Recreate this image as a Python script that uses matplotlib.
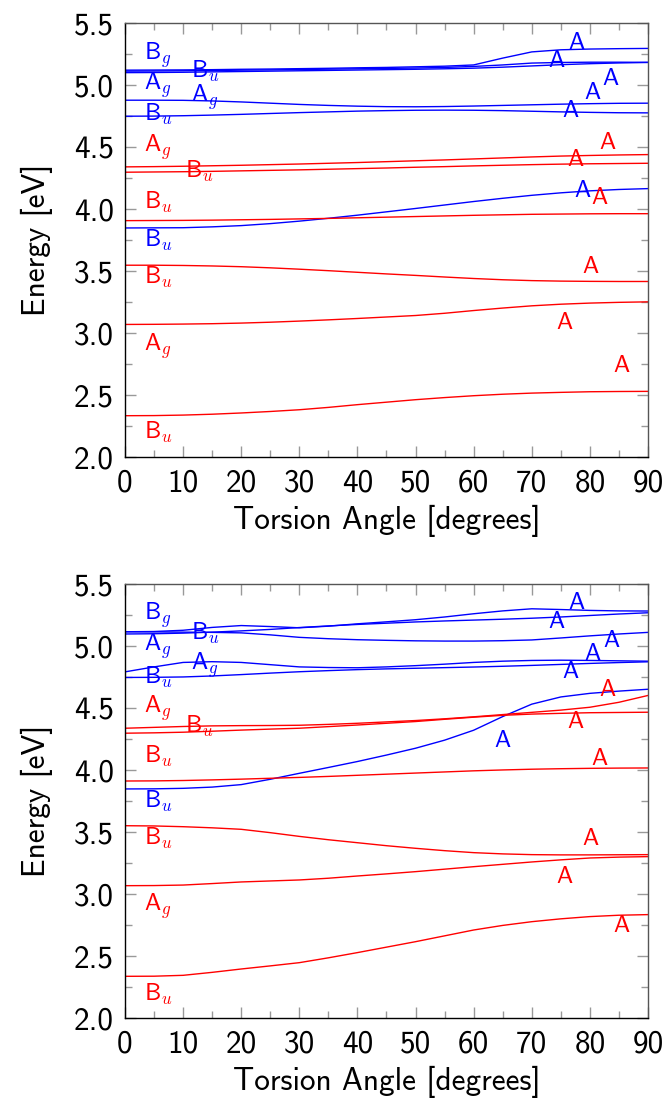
import numpy as np
import matplotlib
matplotlib.use("Agg")
import matplotlib.pyplot as plt
from matplotlib.ticker import MultipleLocator, FormatStrFormatter

plt.rcParams["font.family"] = "cmss10"
plt.rcParams["mathtext.fontset"] = "cm"
plt.rcParams["axes.formatter.use_mathtext"] = True

BLUE = "#0000ff"
RED = "#ff0000"

angle = np.arange(0, 95, 5)

# ---- planar-start scan (upper panel) ----
top_blue = [
    [5.118, 5.119, 5.120, 5.122, 5.125, 5.127, 5.130, 5.133, 5.137, 5.140,
     5.145, 5.150, 5.160, 5.215, 5.265, 5.282, 5.288, 5.291, 5.293],
    [5.110, 5.111, 5.113, 5.115, 5.118, 5.120, 5.123, 5.126, 5.129, 5.132,
     5.135, 5.140, 5.148, 5.160, 5.175, 5.180, 5.182, 5.182, 5.181],
    [5.098, 5.099, 5.101, 5.104, 5.107, 5.110, 5.113, 5.116, 5.119, 5.122,
     5.125, 5.129, 5.134, 5.142, 5.152, 5.162, 5.170, 5.176, 5.180],
    [4.876, 4.876, 4.875, 4.870, 4.862, 4.852, 4.842, 4.834, 4.828, 4.824,
     4.823, 4.825, 4.829, 4.834, 4.839, 4.844, 4.848, 4.851, 4.852],
    [4.747, 4.748, 4.751, 4.756, 4.762, 4.769, 4.776, 4.782, 4.788, 4.792,
     4.795, 4.796, 4.795, 4.792, 4.787, 4.782, 4.778, 4.775, 4.774],
    [3.847, 3.848, 3.849, 3.856, 3.866, 3.882, 3.902, 3.925, 3.950, 3.977,
     4.004, 4.032, 4.060, 4.086, 4.110, 4.130, 4.146, 4.157, 4.164],
]
top_red = [
    [4.339, 4.341, 4.344, 4.348, 4.352, 4.357, 4.362, 4.368, 4.374, 4.381,
     4.388, 4.395, 4.403, 4.411, 4.419, 4.426, 4.431, 4.435, 4.438],
    [4.296, 4.298, 4.300, 4.303, 4.307, 4.311, 4.315, 4.320, 4.325, 4.330,
     4.336, 4.341, 4.347, 4.352, 4.357, 4.361, 4.364, 4.366, 4.368],
    [3.906, 3.907, 3.908, 3.910, 3.913, 3.916, 3.920, 3.924, 3.929, 3.934,
     3.939, 3.944, 3.949, 3.953, 3.957, 3.959, 3.961, 3.962, 3.962],
    [3.547, 3.547, 3.545, 3.541, 3.535, 3.526, 3.515, 3.503, 3.490, 3.477,
     3.465, 3.452, 3.440, 3.430, 3.423, 3.419, 3.417, 3.416, 3.416],
    [3.070, 3.071, 3.073, 3.076, 3.081, 3.088, 3.097, 3.107, 3.118, 3.130,
     3.142, 3.160, 3.182, 3.202, 3.220, 3.233, 3.242, 3.248, 3.252],
    [2.335, 2.336, 2.340, 2.347, 2.357, 2.369, 2.383, 2.402, 2.424, 2.444,
     2.464, 2.481, 2.496, 2.508, 2.517, 2.523, 2.528, 2.530, 2.531],
]

# ---- relaxed scan (lower panel) ----
bot_blue = [
    [5.113, 5.115, 5.125, 5.148, 5.163, 5.155, 5.145, 5.158, 5.177, 5.193,
     5.210, 5.232, 5.258, 5.281, 5.298, 5.292, 5.285, 5.281, 5.280],
    [5.095, 5.097, 5.102, 5.110, 5.120, 5.132, 5.147, 5.160, 5.172, 5.182,
     5.192, 5.200, 5.207, 5.214, 5.222, 5.232, 5.244, 5.256, 5.266],
    [5.113, 5.112, 5.110, 5.108, 5.104, 5.088, 5.068, 5.057, 5.049, 5.044,
     5.040, 5.038, 5.038, 5.041, 5.047, 5.063, 5.080, 5.095, 5.108],
    [4.790, 4.830, 4.866, 4.872, 4.866, 4.848, 4.830, 4.825, 4.823, 4.830,
     4.840, 4.852, 4.866, 4.876, 4.882, 4.884, 4.882, 4.879, 4.876],
    [4.745, 4.746, 4.749, 4.757, 4.768, 4.780, 4.791, 4.800, 4.808, 4.814,
     4.819, 4.824, 4.829, 4.835, 4.842, 4.850, 4.858, 4.865, 4.871],
    [3.847, 3.848, 3.852, 3.862, 3.882, 3.925, 3.973, 4.020, 4.068, 4.120,
     4.175, 4.240, 4.320, 4.430, 4.530, 4.588, 4.617, 4.635, 4.650],
]
bot_red = [
    [4.336, 4.343, 4.350, 4.355, 4.357, 4.358, 4.360, 4.367, 4.376, 4.387,
     4.398, 4.412, 4.428, 4.446, 4.464, 4.482, 4.505, 4.545, 4.600],
    [4.296, 4.299, 4.304, 4.312, 4.321, 4.329, 4.336, 4.349, 4.362, 4.376,
     4.390, 4.408, 4.425, 4.440, 4.450, 4.456, 4.461, 4.463, 4.465],
    [3.911, 3.912, 3.915, 3.920, 3.926, 3.933, 3.940, 3.948, 3.957, 3.966,
     3.975, 3.984, 3.993, 4.000, 4.006, 4.010, 4.013, 4.015, 4.016],
    [3.551, 3.549, 3.543, 3.534, 3.522, 3.495, 3.465, 3.438, 3.414, 3.390,
     3.369, 3.350, 3.334, 3.324, 3.318, 3.316, 3.316, 3.317, 3.318],
    [3.068, 3.069, 3.073, 3.085, 3.098, 3.106, 3.114, 3.128, 3.146, 3.163,
     3.181, 3.201, 3.221, 3.240, 3.259, 3.276, 3.291, 3.298, 3.302],
    [2.338, 2.339, 2.346, 2.370, 2.397, 2.422, 2.448, 2.487, 2.529, 2.573,
     2.617, 2.664, 2.711, 2.748, 2.778, 2.801, 2.819, 2.830, 2.835],
]

# symmetry labels: (angle, energy, text, colour)
left_labels_top = [
    (3.3, 5.204, "B$_g$", BLUE), (3.3, 4.957, "A$_g$", BLUE),
    (11.4, 5.054, "B$_u$", BLUE), (11.4, 4.860, "A$_g$", BLUE),
    (3.3, 4.707, "B$_u$", BLUE), (3.3, 3.694, "B$_u$", BLUE),
    (3.3, 4.460, "A$_g$", RED), (10.3, 4.253, "B$_u$", RED),
    (3.3, 4.003, "B$_u$", RED), (3.3, 3.397, "B$_u$", RED),
    (3.3, 2.861, "A$_g$", RED), (3.3, 2.150, "B$_u$", RED),
]
right_labels_top = [
    (76.3, 5.288, BLUE), (72.8, 5.140, BLUE), (82.2, 4.997, BLUE),
    (79.1, 4.887, BLUE), (75.3, 4.737, BLUE), (77.3, 4.097, BLUE),
    (81.7, 4.487, RED), (76.2, 4.344, RED), (80.2, 4.043, RED),
    (78.7, 3.485, RED), (74.3, 3.035, RED), (84.1, 2.686, RED),
]
left_labels_bot = [
    (3.3, 5.210, "B$_g$", BLUE), (3.3, 4.962, "A$_g$", BLUE),
    (11.4, 5.048, "B$_u$", BLUE), (11.4, 4.806, "A$_g$", BLUE),
    (3.3, 4.694, "B$_u$", BLUE), (3.3, 3.691, "B$_u$", BLUE),
    (3.3, 4.457, "A$_g$", RED), (10.3, 4.301, "B$_u$", RED),
    (3.3, 4.054, "B$_u$", RED), (3.3, 3.396, "B$_u$", RED),
    (3.3, 2.864, "A$_g$", RED), (3.3, 2.140, "B$_u$", RED),
]
right_labels_bot = [
    (76.3, 5.296, BLUE), (72.8, 5.142, BLUE), (82.3, 4.989, BLUE),
    (79.1, 4.887, BLUE), (75.3, 4.739, BLUE), (63.6, 4.183, BLUE),
    (81.7, 4.597, RED), (76.2, 4.341, RED), (80.2, 4.040, RED),
    (78.7, 3.396, RED), (74.3, 3.087, RED), (84.1, 2.692, RED),
]


def draw_panel(ax, blue, red, left_labels, right_labels):
    for e in blue:
        ax.plot(angle, e, color=BLUE, lw=1.0)
    for e in red:
        ax.plot(angle, e, color=RED, lw=1.0)
    for x, y, s, c in left_labels:
        ax.text(x, y, s, color=c, fontsize=17.5, ha="left", va="baseline")
    for x, y, c in right_labels:
        ax.text(x, y, "A", color=c, fontsize=17.5, ha="left", va="baseline")

    ax.set_xlim(0, 90)
    ax.set_ylim(2.0, 5.5)
    ax.xaxis.set_major_locator(MultipleLocator(10))
    ax.xaxis.set_minor_locator(MultipleLocator(5))
    ax.yaxis.set_major_locator(MultipleLocator(0.5))
    ax.yaxis.set_minor_locator(MultipleLocator(0.25))
    ax.yaxis.set_major_formatter(FormatStrFormatter("%.1f"))
    ax.xaxis.set_major_formatter(FormatStrFormatter("%d"))
    ax.tick_params(which="both", direction="in", top=True, right=True,
                   color="#999999", width=1.0, labelsize=22.5)
    ax.tick_params(which="major", length=8, pad=8)
    ax.tick_params(which="minor", length=5)
    for side in ("left", "bottom"):
        ax.spines[side].set_color("black")
    for side in ("top", "right"):
        ax.spines[side].set_color("#555555")
    for sp in ax.spines.values():
        sp.set_linewidth(1.0)
    ax.set_xlabel("Torsion Angle [degrees]", fontsize=22.5, labelpad=5)
    ax.set_ylabel("Energy [eV]", fontsize=22.5, labelpad=15)


fig = plt.figure(figsize=(6.67, 11.03), dpi=100)
ax_top = fig.add_axes([0.1874, 0.5854, 0.7841, 0.394])
ax_bot = fig.add_axes([0.1874, 0.0768, 0.7841, 0.394])

draw_panel(ax_top, top_blue, top_red, left_labels_top, right_labels_top)
draw_panel(ax_bot, bot_blue, bot_red, left_labels_bot, right_labels_bot)

fig.savefig("out.png", dpi=100)
